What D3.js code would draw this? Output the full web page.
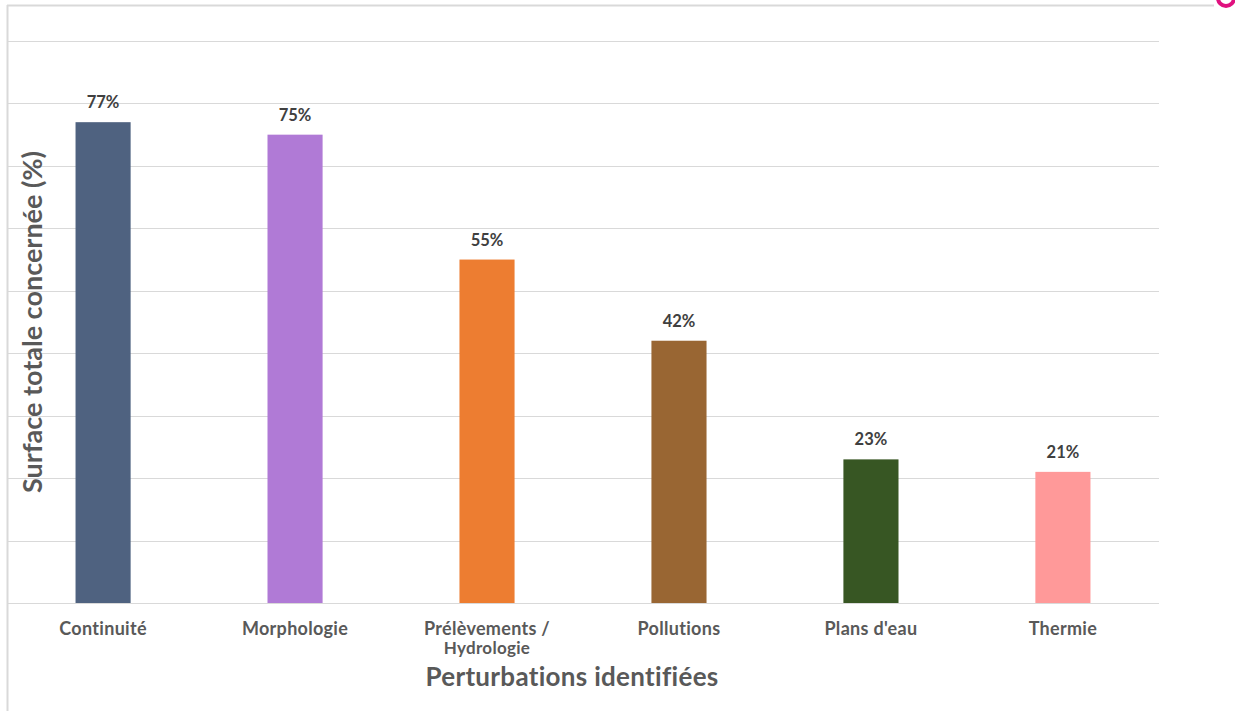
<!DOCTYPE html>
<html><head><meta charset="utf-8">
<script src="https://cdn.jsdelivr.net/npm/d3@7"></script>
<style>body{margin:0;background:#fff;} svg{display:block;}</style>
</head><body>
<svg id="c" width="1235" height="711"></svg>
<script>
const categories = ["Continuité", "Morphologie", "Prélèvements /\nHydrologie", "Pollutions", "Plans d'eau", "Thermie"];
const values = [77, 75, 55, 42, 23, 21];
const colors = ["#4F6280", "#B07AD6", "#ED7D31", "#996633", "#375623", "#FF9999"];
const gridTicks = [0, 10, 20, 30, 40, 50, 60, 70, 80, 90];
const yTitle = "Surface totale concernée (%)";
const xTitle = "Perturbations identifiées";

const svg = d3.select("#c");
const font = "Lato, 'Open Sans', sans-serif";
const plotL = 7, plotR = 1159, plotT = 41, plotB = 603;

// frame
svg.append("line").attr("x1", 7).attr("x2", 1214).attr("y1", 5.5).attr("y2", 5.5).attr("stroke", "#d9d9d9").attr("stroke-width", 2);
svg.append("line").attr("x1", 7.5).attr("x2", 7.5).attr("y1", 5).attr("y2", 711).attr("stroke", "#d9d9d9").attr("stroke-width", 2);
svg.append("circle").attr("cx", 1226).attr("cy", -2).attr("r", 8).attr("fill", "none").attr("stroke", "#E0117F").attr("stroke-width", 4);

const x = d3.scaleBand().domain(categories).range([plotL, plotR]).paddingInner(0.713).paddingOuter(0.357);
const y = d3.scaleLinear().domain([0, 90]).range([plotB, plotT]);

// gridlines
svg.append("g").selectAll("line").data(gridTicks).join("line")
  .attr("x1", plotL).attr("x2", plotR)
  .attr("y1", d => Math.round(y(d)) + 0.5).attr("y2", d => Math.round(y(d)) + 0.5)
  .attr("stroke", "#d9d9d9").attr("stroke-width", 1);

// bars
svg.append("g").selectAll("rect").data(values).join("rect")
  .attr("x", (d, i) => x(categories[i]))
  .attr("width", x.bandwidth())
  .attr("y", d => y(d))
  .attr("height", d => y(0) - y(d))
  .attr("fill", (d, i) => colors[i]);

// value labels
svg.append("g").selectAll("text").data(values).join("text")
  .attr("x", (d, i) => x(categories[i]) + x.bandwidth() / 2)
  .attr("y", d => y(d) - 14)
  .attr("text-anchor", "middle")
  .attr("font-family", font).attr("font-weight", "bold").attr("font-size", 16.5)
  .attr("fill", "#404040")
  .text(d => d + "%");

// x axis labels
const xa = svg.append("g").attr("transform", `translate(0,${plotB})`)
  .call(d3.axisBottom(x).tickSize(0).tickPadding(0).tickFormat(""));
xa.select(".domain").remove();
const labs = svg.append("g").selectAll("text").data(categories).join("text")
  .attr("x", d => x(d) + x.bandwidth() / 2)
  .attr("y", 635)
  .attr("text-anchor", "middle")
  .attr("font-family", font).attr("font-weight", "bold").attr("font-size", 18)
  .attr("letter-spacing", 0.3)
  .attr("fill", "#595959");
labs.each(function(d) {
  const parts = d.split("\n");
  const t = d3.select(this);
  parts.forEach((p, j) => {
    t.append("tspan").attr("x", t.attr("x")).attr("dy", j === 0 ? 0 : 19)
      .attr("font-size", j === 0 ? 18 : 17).text(p);
  });
});

// axis titles
svg.append("text").attr("x", 572).attr("y", 686).attr("text-anchor", "middle")
  .attr("font-family", font).attr("font-weight", "bold").attr("font-size", 26)
  .attr("letter-spacing", 0.3)
  .attr("fill", "#595959").text(xTitle);
svg.append("text").attr("transform", "translate(42,322) rotate(-90)").attr("text-anchor", "middle")
  .attr("font-family", font).attr("font-weight", "bold").attr("font-size", 27)
  .attr("fill", "#595959").text(yTitle);
</script>
</body></html>
